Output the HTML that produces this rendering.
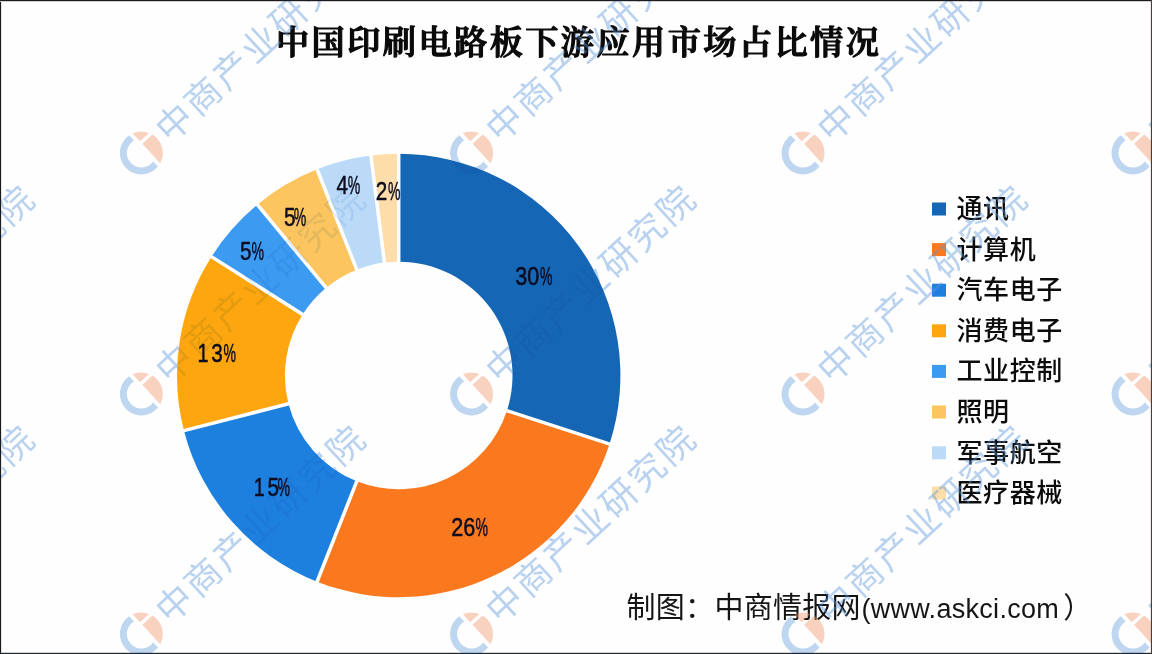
<!DOCTYPE html>
<html lang="zh-CN">
<head>
<meta charset="utf-8">
<title>中国印刷电路板下游应用市场占比情况</title>
<style>
html,body{margin:0;padding:0;background:#fefefe;}
body{width:1152px;height:654px;overflow:hidden;position:relative;font-family:"Liberation Sans","Noto Sans CJK SC",sans-serif;}
svg{display:block;position:absolute;left:0;top:0;}
.title{font-family:"Liberation Serif","Noto Serif CJK SC",serif;font-weight:600;font-size:33.2px;fill:#0a0a0a;stroke:#0a0a0a;stroke-width:1.2px;stroke-linejoin:round;letter-spacing:2.42px;}
.leg text{font-family:"Liberation Sans","Noto Sans CJK SC",sans-serif;font-size:26px;font-weight:500;letter-spacing:0.6px;fill:#0c0c0c;}
.pct text{font-family:"Liberation Sans",sans-serif;font-size:25.4px;fill:#0c0c20;stroke:#0c0c20;stroke-width:0.5px;}
.foot{font-family:"Liberation Sans","Noto Sans CJK SC",sans-serif;font-size:29px;letter-spacing:0.3px;fill:#151515;}
.wmt{font-family:"Liberation Sans","Noto Sans CJK SC",sans-serif;font-size:36px;font-weight:400;letter-spacing:2.8px;fill:#5a96dc;}
</style>
</head>
<body>
<svg width="1152" height="654" viewBox="0 0 1152 654">
<defs>
<g id="wm">
  <path fill-rule="evenodd" fill="#6aa0e0" d="M3,-21.3 A21.5,21.5 0 1 0 3,21.3 L3,14.2 A14.5,14.5 0 1 1 3,-14.2 Z"/>
  <path fill="#f3936a" d="M7,-20.33 A21.5,21.5 0 0 1 19.3,-9.5 L7,-9.5 Z"/>
  <path fill="#f3936a" d="M7,-6 L20.65,-6 A21.5,21.5 0 0 1 7,20.33 Z"/>
  <text class="wmt" x="27" y="13">中商产业研究院</text>
</g>
<clipPath id="ring"><path clip-rule="evenodd" d="M177.0,375.5 a221.7,221.7 0 1 0 443.4,0 a221.7,221.7 0 1 0 -443.4,0 Z M284.9,375.5 a113.8,113.8 0 1 0 227.6,0 a113.8,113.8 0 1 0 -227.6,0 Z"/></clipPath>
<clipPath id="notring"><path clip-rule="evenodd" d="M0,0 H1152 V654 H0 Z M177.0,375.5 a221.7,221.7 0 1 0 443.4,0 a221.7,221.7 0 1 0 -443.4,0 Z"/><circle cx="398.7" cy="375.5" r="113.8"/></clipPath>
<g id="wmall">
<use href="#wm" transform="translate(-189.7,153) rotate(-42.7)"/>
<use href="#wm" transform="translate(141.3,153) rotate(-42.7)"/>
<use href="#wm" transform="translate(471.5,153) rotate(-42.7)"/>
<use href="#wm" transform="translate(803,153) rotate(-42.7)"/>
<use href="#wm" transform="translate(1133,153) rotate(-42.7)"/>
<use href="#wm" transform="translate(-189.7,394) rotate(-42.7)"/>
<use href="#wm" transform="translate(141.3,394) rotate(-42.7)"/>
<use href="#wm" transform="translate(471.5,394) rotate(-42.7)"/>
<use href="#wm" transform="translate(803,394) rotate(-42.7)"/>
<use href="#wm" transform="translate(1133,394) rotate(-42.7)"/>
<use href="#wm" transform="translate(-189.7,634) rotate(-42.7)"/>
<use href="#wm" transform="translate(141.3,634) rotate(-42.7)"/>
<use href="#wm" transform="translate(471.5,634) rotate(-42.7)"/>
<use href="#wm" transform="translate(803,634) rotate(-42.7)"/>
<use href="#wm" transform="translate(1133,634) rotate(-42.7)"/>
<use href="#wm" transform="translate(-189.7,875) rotate(-42.7)"/>
<use href="#wm" transform="translate(141.3,875) rotate(-42.7)"/>
<use href="#wm" transform="translate(471.5,875) rotate(-42.7)"/>
<use href="#wm" transform="translate(803,875) rotate(-42.7)"/>
<use href="#wm" transform="translate(1133,875) rotate(-42.7)"/>
</g>
</defs>
<rect x="0" y="0" width="1152" height="654" fill="#fefefe"/>
<g>
<path d="M398.70,153.80A221.7,221.7 0 0 1 609.55,444.01L506.93,410.67A113.8,113.8 0 0 0 398.70,261.70Z" fill="#1567B5"/>
<path d="M609.55,444.01A221.7,221.7 0 0 1 317.09,581.63L356.81,481.31A113.8,113.8 0 0 0 506.93,410.67Z" fill="#FA781E"/>
<path d="M317.09,581.63A221.7,221.7 0 0 1 183.97,430.63L288.48,403.80A113.8,113.8 0 0 0 356.81,481.31Z" fill="#1E80DE"/>
<path d="M183.97,430.63A221.7,221.7 0 0 1 211.51,256.71L302.62,314.52A113.8,113.8 0 0 0 288.48,403.80Z" fill="#FDA60F"/>
<path d="M211.51,256.71A221.7,221.7 0 0 1 257.38,204.68L326.16,287.82A113.8,113.8 0 0 0 302.62,314.52Z" fill="#3C9BF0"/>
<path d="M257.38,204.68A221.7,221.7 0 0 1 317.09,169.37L356.81,269.69A113.8,113.8 0 0 0 326.16,287.82Z" fill="#FDC55F"/>
<path d="M317.09,169.37A221.7,221.7 0 0 1 370.91,155.55L384.44,262.60A113.8,113.8 0 0 0 356.81,269.69Z" fill="#BBDAF8"/>
<path d="M370.91,155.55A221.7,221.7 0 0 1 398.70,153.80L398.70,261.70A113.8,113.8 0 0 0 384.44,262.60Z" fill="#FDDEAA"/>
</g>
<g stroke="#fff" stroke-width="3.5" fill="none">
<line x1="398.70" y1="263.70" x2="398.70" y2="151.80"/>
<line x1="505.03" y1="410.05" x2="611.45" y2="444.63"/>
<line x1="357.54" y1="479.45" x2="316.35" y2="583.49"/>
<line x1="290.41" y1="403.30" x2="182.03" y2="431.13"/>
<line x1="304.30" y1="315.59" x2="209.82" y2="255.64"/>
<line x1="327.44" y1="289.36" x2="256.11" y2="203.14"/>
<line x1="357.54" y1="271.55" x2="316.35" y2="167.51"/>
<line x1="384.69" y1="264.58" x2="370.66" y2="153.56"/>
</g>
<text class="title" x="276" y="53.5">中国印刷电路板下游应用市场占比情况</text>
<g class="leg">
<rect x="932" y="202.5" width="14" height="13" fill="#1567B5"/>
<text x="956.5" y="218.0">通讯</text>
<rect x="932" y="243.1" width="14" height="13" fill="#FA781E"/>
<text x="956.5" y="258.6">计算机</text>
<rect x="932" y="283.7" width="14" height="13" fill="#1E80DE"/>
<text x="956.5" y="299.2">汽车电子</text>
<rect x="932" y="324.3" width="14" height="13" fill="#FDA60F"/>
<text x="956.5" y="339.8">消费电子</text>
<rect x="932" y="364.9" width="14" height="13" fill="#3C9BF0"/>
<text x="956.5" y="380.4">工业控制</text>
<rect x="932" y="405.5" width="14" height="13" fill="#FDC55F"/>
<text x="956.5" y="421.0">照明</text>
<rect x="932" y="446.3" width="14" height="13" fill="#BBDAF8"/>
<text x="956.5" y="461.8">军事航空</text>
<rect x="932" y="486.5" width="14" height="13" fill="#FDDEAA"/>
<text x="956.5" y="502.0">医疗器械</text>
</g>
<g class="pct">
<text y="285.3"><tspan x="515.2" textLength="24.0" lengthAdjust="spacingAndGlyphs">30</tspan><tspan x="539.9" textLength="12.5" lengthAdjust="spacingAndGlyphs">%</tspan></text>
<text y="536.0"><tspan x="451.2" textLength="24.0" lengthAdjust="spacingAndGlyphs">26</tspan><tspan x="475.4" textLength="12.5" lengthAdjust="spacingAndGlyphs">%</tspan></text>
<text y="495.7"><tspan x="253.7" textLength="11.0" lengthAdjust="spacingAndGlyphs">1</tspan><tspan x="267.5" textLength="11.5" lengthAdjust="spacingAndGlyphs">5</tspan><tspan x="277.4" textLength="12.5" lengthAdjust="spacingAndGlyphs">%</tspan></text>
<text y="361.8"><tspan x="197.4" textLength="11.0" lengthAdjust="spacingAndGlyphs">1</tspan><tspan x="211.2" textLength="11.5" lengthAdjust="spacingAndGlyphs">3</tspan><tspan x="223.6" textLength="12.5" lengthAdjust="spacingAndGlyphs">%</tspan></text>
<text y="259.5"><tspan x="239.9" textLength="11.5" lengthAdjust="spacingAndGlyphs">5</tspan><tspan x="251.6" textLength="12.5" lengthAdjust="spacingAndGlyphs">%</tspan></text>
<text y="225.5"><tspan x="284.0" textLength="11.5" lengthAdjust="spacingAndGlyphs">5</tspan><tspan x="293.7" textLength="12.5" lengthAdjust="spacingAndGlyphs">%</tspan></text>
<text y="194.0"><tspan x="336.5" textLength="11.5" lengthAdjust="spacingAndGlyphs">4</tspan><tspan x="347.7" textLength="12.5" lengthAdjust="spacingAndGlyphs">%</tspan></text>
<text y="200.0"><tspan x="375.8" textLength="11.5" lengthAdjust="spacingAndGlyphs">2</tspan><tspan x="388.0" textLength="12.5" lengthAdjust="spacingAndGlyphs">%</tspan></text>
</g>
<text class="foot" x="626.5" y="618">制图：中商情报网<tspan font-size="27" dx="0.5">(www.askci.com</tspan><tspan dx="4">）</tspan></text>
<g clip-path="url(#notring)" opacity="0.42"><use href="#wmall"/></g>
<g clip-path="url(#ring)" opacity="0.16" style="mix-blend-mode:multiply"><use href="#wmall"/></g>
<rect x="0" y="0" width="1152" height="1.2" fill="#1b1b20"/>
<rect x="0" y="652.8" width="1152" height="1.2" fill="#1e2a33"/>
<rect x="0" y="2" width="1.1" height="652" fill="#1b1b1e"/>
<rect x="1150.9" y="0" width="1.1" height="654" fill="#4a3e3c"/>
</svg>
</body>
</html>
